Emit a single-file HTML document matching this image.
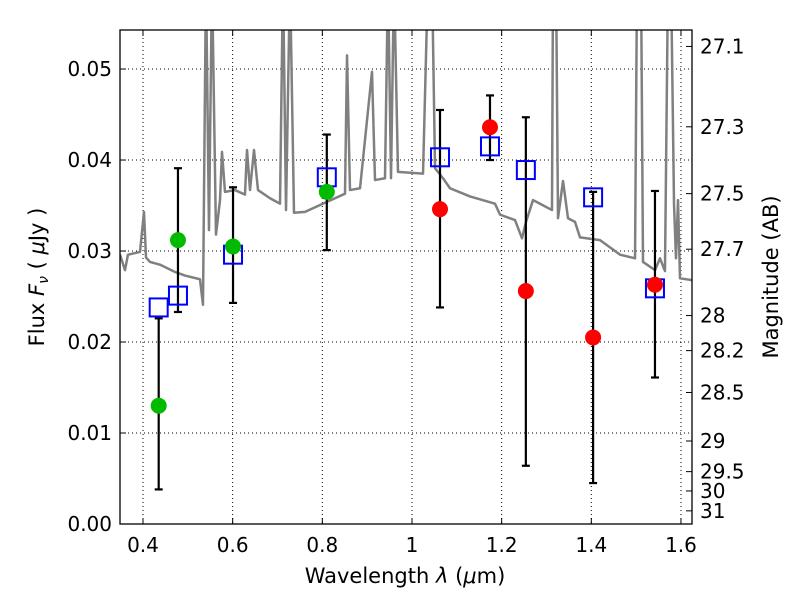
<!DOCTYPE html>
<html><head><meta charset="utf-8"><style>
body{margin:0;background:#fff;}
svg text{font-family:"DejaVu Sans","Liberation Sans",sans-serif;fill:#000;}
</style></head><body>
<svg id="chart" width="800" height="600" xmlns="http://www.w3.org/2000/svg">
<rect width="800" height="600" fill="#fff"/>
<g id="grid"></g>
<g id="plot"></g>
<g id="axes"></g>
<text x="405" y="583" font-size="21" text-anchor="middle">Wavelength  <tspan font-style="italic">λ</tspan> (<tspan font-style="italic">μ</tspan>m)</text>
<text transform="translate(44,277) rotate(-90)" font-size="21" text-anchor="middle">Flux  <tspan font-style="italic">F</tspan><tspan font-style="italic" font-size="14" dy="4">ν</tspan><tspan dy="-4">  ( </tspan><tspan font-style="italic">μ</tspan>Jy )</text>
<text transform="translate(778,277) rotate(-90)" font-size="21" text-anchor="middle">Magnitude (AB)</text>
</svg>
<script>
const specWave=[0.3487,0.3598,0.3665,0.3933,0.4022,0.4067,0.4156,0.4379,0.4714,0.4937,0.5271,0.5338,0.5405,0.5472,0.5539,0.5628,0.5718,0.5762,0.5829,0.6052,0.6275,0.6320,0.6387,0.6476,0.6565,0.6833,0.7056,0.7123,0.7190,0.7279,0.7368,0.7614,0.8060,0.8506,0.8551,0.8617,0.8841,0.9108,0.9175,0.9398,0.9465,0.9532,0.9599,0.9688,1.0246,1.0357,1.0447,1.0514,1.0692,1.0848,1.1294,1.1852,1.1963,1.2298,1.2454,1.2543,1.2700,1.2856,1.3123,1.3146,1.3213,1.3257,1.3369,1.3480,1.3636,1.3748,1.4194,1.4640,1.4975,1.5020,1.5109,1.5153,1.5421,1.5532,1.5643,1.5711,1.5778,1.5845,1.5889,1.5934,1.5978,1.6246];
const specFlux=[0.0296,0.0279,0.0296,0.0299,0.0343,0.0293,0.0288,0.0285,0.0277,0.0273,0.0269,0.0241,0.06,0.0323,0.06,0.0318,0.0356,0.0409,0.0365,0.0367,0.0362,0.0411,0.0367,0.0411,0.0367,0.0358,0.0352,0.06,0.0345,0.06,0.0342,0.0343,0.0353,0.0363,0.0515,0.0367,0.0369,0.0497,0.0378,0.0380,0.06,0.0380,0.06,0.0387,0.0385,0.06,0.06,0.0391,0.0380,0.0369,0.0360,0.0352,0.0340,0.0334,0.0314,0.0332,0.0356,0.0352,0.0345,0.06,0.06,0.0336,0.0377,0.0336,0.0332,0.0315,0.0312,0.0296,0.0292,0.06,0.06,0.0288,0.0279,0.0292,0.0278,0.06,0.06,0.0351,0.0292,0.0356,0.0270,0.0268];
const bandWave=[0.435,0.478,0.6008,0.810,1.0625,1.174,1.254,1.404,1.542];
const modelFlux=[0.0238,0.0251,0.0296,0.0381,0.0403,0.0415,0.0389,0.0359,0.0259];
const obsFlux=[0.0130,0.0312,0.0305,0.0365,0.0346,0.0436,0.0256,0.0205,0.0263];
const obsColor=['#00bb00','#00bb00','#00bb00','#00bb00','#ff0000','#ff0000','#ff0000','#ff0000','#ff0000'];
const errLo=[0.0038,0.0233,0.0243,0.0301,0.0238,0.0400,0.0064,0.0045,0.0161];
const errHi=[0.0226,0.0391,0.0370,0.0428,0.0455,0.0471,0.0447,0.0365,0.0366];
const xTicks=[0.4,0.6,0.8,1.0,1.2,1.4,1.6];
const xTickLabels=['0.4','0.6','0.8','1','1.2','1.4','1.6'];
const yTicks=[0,0.01,0.02,0.03,0.04,0.05];
const yTickLabels=['0.00','0.01','0.02','0.03','0.04','0.05'];
const magTicks=[27.1,27.3,27.5,27.7,28,28.2,28.5,29,29.5,30,31];

const L=120,R=692,T=30,B=524,X0=0.3487,X1=1.6246,Y0=0,Y1=0.05429;
const sx=v=>L+(v-X0)/(X1-X0)*(R-L);
const sy=v=>B-(v-Y0)/(Y1-Y0)*(B-T);
const NS='http://www.w3.org/2000/svg';
function mk(tag,attrs,parent){const e=document.createElementNS(NS,tag);for(const k in attrs)e.setAttribute(k,attrs[k]);parent.appendChild(e);return e;}
const grid=document.getElementById('grid'),plot=document.getElementById('plot'),axes=document.getElementById('axes');
const svg=document.getElementById('chart');
const defs=mk('defs',{},svg);const cp=mk('clipPath',{id:'clip'},defs);mk('rect',{x:L,y:T,width:R-L,height:B-T},cp);
plot.setAttribute('clip-path','url(#clip)');

xTicks.forEach((v,i)=>{
 const g=mk('line',{x1:sx(v),x2:sx(v),y1:T,y2:B,stroke:'#000','stroke-width':1,'stroke-dasharray':'1,3'},grid);
 
 
 mk('line',{x1:sx(v),x2:sx(v),y1:B,y2:B-6,stroke:'#000'},axes);
 mk('line',{x1:sx(v),x2:sx(v),y1:T,y2:T+6,stroke:'#000'},axes);
 const t=mk('text',{x:sx(v),y:B+28,'font-size':20,'text-anchor':'middle'},axes);t.textContent=xTickLabels[i];
 
 
});
yTicks.forEach((v,i)=>{
 const g=mk('line',{x1:L,x2:R,y1:sy(v),y2:sy(v),stroke:'#000','stroke-width':1,'stroke-dasharray':'1,3'},grid);
 
 
 mk('line',{x1:L,x2:L+6,y1:sy(v),y2:sy(v),stroke:'#000'},axes);
 const t=mk('text',{x:L-8,y:sy(v)+7,'font-size':20,'text-anchor':'end'},axes);t.textContent=yTickLabels[i];
 
 
});
magTicks.forEach(m=>{
 const f=Math.pow(10,(23.9-m)/2.5);const y=sy(f);
 mk('line',{x1:R,x2:R-6,y1:y,y2:y,stroke:'#000'},axes);
 const t=mk('text',{x:R+8,y:y+7,'font-size':20},axes);t.textContent=String(m);
 
 
});
mk('rect',{x:L,y:T,width:R-L,height:B-T,fill:'none',stroke:'#000','stroke-width':1.3},axes);

const sp=mk('polyline',{points:specWave.map((w,i)=>sx(w)+','+sy(specFlux[i])).join(' '),fill:'none',stroke:'#808080','stroke-width':2.5,'stroke-linejoin':'round'},plot);



bandWave.forEach((w,i)=>{
 const x=sx(w);
 const eb=mk('g',{},plot);
 
 
 mk('line',{x1:x,x2:x,y1:sy(errLo[i]),y2:sy(errHi[i]),stroke:'#000','stroke-width':2.2},eb);
 mk('line',{x1:x-4,x2:x+4,y1:sy(errLo[i]),y2:sy(errLo[i]),stroke:'#000','stroke-width':2.2},eb);
 mk('line',{x1:x-4,x2:x+4,y1:sy(errHi[i]),y2:sy(errHi[i]),stroke:'#000','stroke-width':2.2},eb);
 const s=mk('rect',{x:x-9,y:sy(modelFlux[i])-9,width:18,height:18,fill:'none',stroke:'#0000ff','stroke-width':2},plot);
 
 
 const c=mk('circle',{cx:x,cy:sy(obsFlux[i]),r:8,fill:obsColor[i]},plot);
 
 
});
</script>
</body></html>
